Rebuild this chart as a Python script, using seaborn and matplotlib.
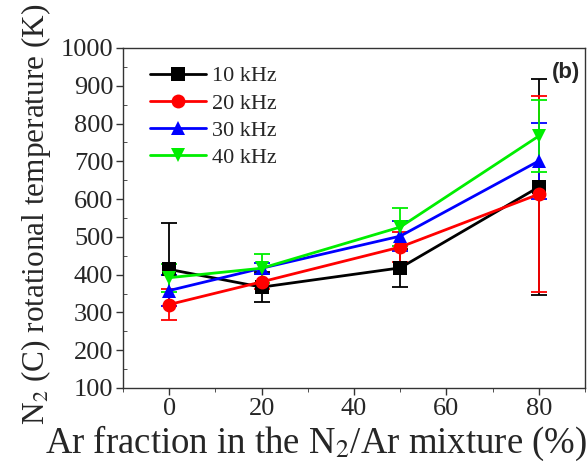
import matplotlib
matplotlib.use("Agg")
import matplotlib.pyplot as plt
import seaborn as sns
import pandas as pd
import numpy as np
from matplotlib.ticker import MultipleLocator

sns.set_style("ticks")
plt.rcParams['font.family'] = ['Liberation Serif', 'DejaVu Serif']
plt.rcParams['mathtext.fontset'] = 'stix'

ar_fraction = [0, 20, 50, 80]
labels = ["10 kHz", "20 kHz", "30 kHz", "40 kHz"]
t_10 = [414, 367, 418, 632]
t_20 = [321, 381, 473, 613]
t_30 = [358, 417, 502, 701]
t_40 = [392, 417, 526, 767]
err_lo_10 = [15, 40, 50, 285]
err_hi_10 = [123, 40, 50, 285]
err_20 = [40, 20, 40, 260]
err_30 = [40, 15, 40, 100]
err_40 = [37, 38, 50, 95]

colors = ["#000000", "#ff0000", "#0000ff", "#00ee00"]
markers = ["s", "o", "^", "v"]

series = [t_10, t_20, t_30, t_40]
errs = [(err_lo_10, err_hi_10), (err_20, err_20), (err_30, err_30), (err_40, err_40)]

df = pd.DataFrame({
    "x": ar_fraction * 4,
    "T": t_10 + t_20 + t_30 + t_40,
    "f": sum([[l] * 4 for l in labels], []),
})

W, H = 588, 474
fig = plt.figure(figsize=(W / 100, H / 100), dpi=100)
ax = fig.add_axes([123 / W, 1 - 388 / H, (585 - 123) / W, (388 - 48) / H])

for vals, (lo, hi), c in zip(series, errs, colors):
    ax.errorbar(ar_fraction, vals, yerr=[lo, hi], fmt='none', ecolor=c,
                elinewidth=1.3, capsize=6, capthick=1.3, zorder=2)

sns.lineplot(data=df, x="x", y="T", hue="f", style="f", markers=markers,
             dashes=False, palette=colors, markersize=10, linewidth=2,
             markeredgewidth=0, ax=ax, zorder=3)

ax.set_xlim(-10, 90)
ax.set_ylim(100, 1000)
ax.xaxis.set_major_locator(MultipleLocator(20))
ax.xaxis.set_minor_locator(MultipleLocator(10))
ax.yaxis.set_major_locator(MultipleLocator(100))
ax.yaxis.set_minor_locator(MultipleLocator(50))
ax.tick_params(axis='both', which='major', labelsize=19, length=5, width=1,
               direction='out', pad=2, color='#333333')
ax.tick_params(axis='x', which='minor', length=3, direction='out', color='#333333')
ax.tick_params(axis='y', which='minor', length=3, direction='in', color='#333333')
for s in ax.spines.values():
    s.set_linewidth(1)
    s.set_color('#333333')

ax.set_xlabel("")
ax.set_ylabel("")
fig.text(316 / W, 1 - 453 / H, "Ar fraction in the N$_2$/Ar mixture (%)",
         fontsize=26.5, ha='center', va='baseline')
fig.text(36 / W, 1 - 214 / H, "N$_2$ (C) rotational temperature (K)",
         fontsize=22.5, ha='center', va='center', rotation=90)

leg = ax.legend(loc='upper left', frameon=False, fontsize=16, handlelength=2.5,
                handletextpad=0.3, labelspacing=0.3, borderaxespad=0.4,
                bbox_to_anchor=(0.02, 1.0))
leg.set_title(None)

ax.text(0.99, 0.96, "(b)", transform=ax.transAxes, ha='right', va='top',
        fontsize=16, fontweight='bold', family=['Liberation Sans', 'DejaVu Sans'])

fig.savefig("out.png", dpi=100)
